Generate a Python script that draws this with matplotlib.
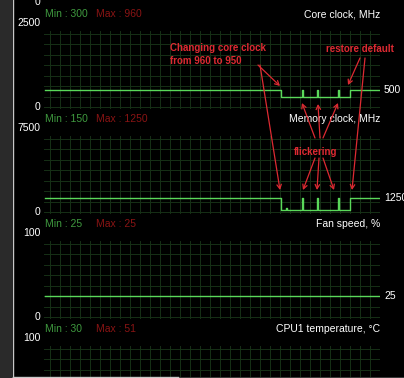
import matplotlib
matplotlib.use("Agg")
import matplotlib.pyplot as plt
from matplotlib.patches import Rectangle, FancyArrowPatch
from matplotlib.lines import Line2D
import numpy as np

plt.rcParams['font.family'] = ['Liberation Sans', 'DejaVu Sans']

W, H = 404, 378

# --- data (time in seconds, one sample per pixel) ---
core_t = [0, 236, 257, 258, 272, 273, 293, 294, 305, 334]
core_v = [500, 300, 500, 300, 500, 300, 500, 300, 500, 500]

mem_t = [0, 236, 241, 242, 257, 258, 272, 273, 293, 294, 305, 334]
mem_v = [1250, 150, 400, 150, 1250, 150, 1250, 150, 1250, 150, 1250, 1250]

fan_t = [0, 334]
fan_v = [25, 25]

titles = ["Core clock, MHz", "Memory clock, MHz", "Fan speed, %", "CPU1 temperature, \u00b0C"]
scale_max = [2500, 7500, 100, 100]
mins = [300, 150, 25, 30]
maxs = [960, 1250, 25, 51]
current = ["500", "1250", "25", None]
series = [(core_t, core_v), (mem_t, mem_v), (fan_t, fan_v), None]

bg = "black"
grid_c = "#163016"
line_c = "#5ad85a"
min_c = "#3f9a3f"
max_c = "#8a1414"
note_c = "#dd2a32"

fig = plt.figure(figsize=(W / 100, H / 100), dpi=100, facecolor=bg)


def px_rect(x0, y0, x1, y1):
    return [x0 / W, 1 - y1 / H, (x1 - x0) / W, (y1 - y0) / H]


for i in range(4):
    off = 105 * i
    top, bot = 31 + off, 109 + off
    ax = fig.add_axes(px_rect(44, top, 380, bot))
    ax.set_facecolor(bg)
    m = scale_max[i]
    zero_y = 107 + off
    # pixel -> value mapping: 84 px per full scale
    ax.set_ylim(-m * (bot - zero_y) / 84, m * (zero_y - top) / 84)
    ax.set_xlim(-1, 335)
    for s in ax.spines.values():
        s.set_visible(False)
    ax.set_xticks(np.arange(5, 336, 10))
    ax.set_yticks(np.arange(0, 8) * m / 8)
    ax.tick_params(left=False, bottom=False, labelleft=False, labelbottom=False)
    ax.grid(True, color=grid_c, lw=0.7)
    ax.set_axisbelow(True)

    tr = ax.get_yaxis_transform()
    if series[i] is not None:
        t, v = series[i]
        ax.plot(t, v, color=line_c, lw=1.0, drawstyle="steps-post")
    ax.text(-0.01, m, str(m), transform=tr, ha="right", va="center",
            color="white", fontsize=7.5, clip_on=False)
    if zero_y < H:
        ax.text(-0.01, 0, "0", transform=tr, ha="right", va="center",
                color="white", fontsize=7.5, clip_on=False)
    ty = m * (zero_y - (14 + off)) / 84
    ax.text(0.003, ty, "Min : %d" % mins[i], transform=tr, ha="left", va="center",
            color=min_c, fontsize=7.5, clip_on=False)
    ax.text(0.155, ty, "Max : %d" % maxs[i], transform=tr, ha="left", va="center",
            color=max_c, fontsize=7.5, clip_on=False)
    ax.text(1.0, ty, titles[i], transform=tr, ha="right", va="center",
            color="white", fontsize=7.5, clip_on=False)
    if current[i] is not None:
        ax.text(1.012, float(current[i]), current[i], transform=tr, ha="left",
                va="center", color="white", fontsize=7.5, clip_on=False)

# "0" of the panel scrolled off above
fig.text(40 / W, 1 - 2 / H, "0", ha="right", va="center", color="white", fontsize=7.5)

# window frame on the left / bottom
fig.patches.append(Rectangle((0, 0), 12 / W, 1, transform=fig.transFigure,
                             facecolor="#2a2a2a", edgecolor="none", zorder=5))
fig.lines.append(Line2D([12.5 / W, 12.5 / W], [1 - 376.5 / H, 1], transform=fig.transFigure,
                        color="#c8c8c8", lw=1.0, zorder=6))
fig.patches.append(Rectangle((12 / W, 0), 1, 1.5 / H, transform=fig.transFigure,
                             facecolor="#3a3a3a", edgecolor="none", zorder=5))
fig.lines.append(Line2D([12.5 / W, 178 / W], [1 - 376.5 / H, 1 - 376.5 / H],
                        transform=fig.transFigure, color="#c8c8c8", lw=1.0, zorder=6))


# --- red annotations (pixel coordinates of the screenshot overlay) ---
def fx(x, y):
    return (x / W, 1 - y / H)


def arrow(x0, y0, x1, y1):
    fig.patches.append(FancyArrowPatch(
        fx(x0, y0), fx(x1, y1), transform=fig.transFigure,
        arrowstyle="->,head_length=3,head_width=1.6",
        color=note_c, lw=0.9, zorder=10, shrinkA=0, shrinkB=0))


fig.text(*fx(170, 48), "Changing core clock", color=note_c, fontsize=7, fontweight="bold",
         ha="left", va="center")
fig.text(*fx(170, 61), "from 960 to 950", color=note_c, fontsize=7, fontweight="bold",
         ha="left", va="center")
fig.text(*fx(326, 49), "restore default", color=note_c, fontsize=7, fontweight="bold",
         ha="left", va="center")
fig.text(*fx(316, 152), "flickering", color=note_c, fontsize=7, fontweight="bold",
         ha="center", va="center")

arrow(258, 65, 280, 86)
arrow(260, 65, 280, 190)
arrow(360, 58, 348, 85)
arrow(365, 58, 352, 190)
arrow(315, 138, 302, 103)
arrow(320, 138, 318, 104)
arrow(323, 138, 338, 103)
arrow(315, 158, 303, 190)
arrow(319, 158, 317, 190)
arrow(323, 158, 334, 190)

fig.savefig("out.png", dpi=100, facecolor=bg)
